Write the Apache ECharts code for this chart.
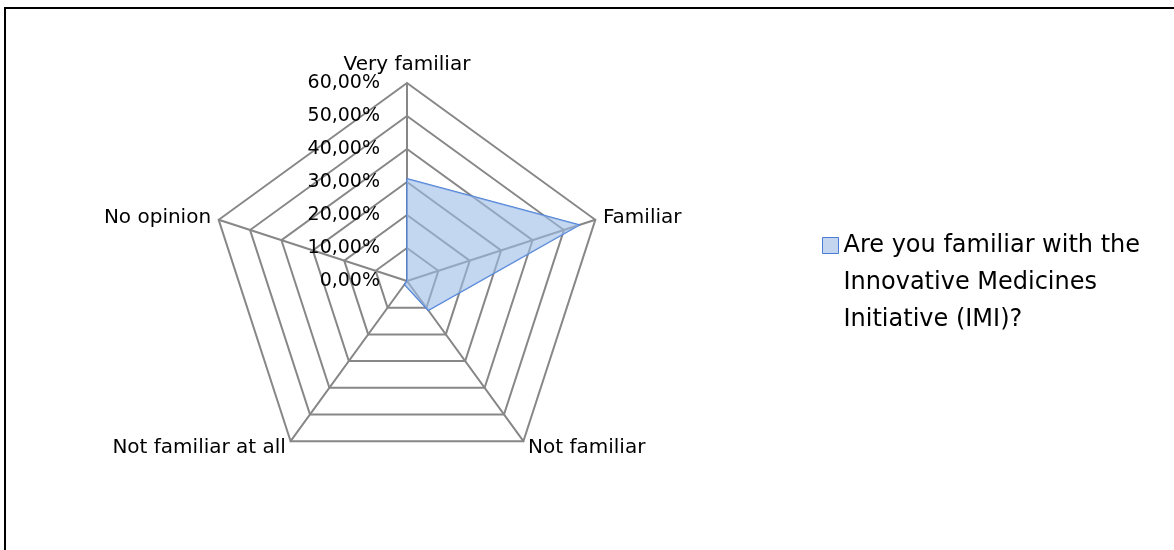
<!DOCTYPE html>
<html>
<head>
<meta charset="utf-8">
<script src="https://cdn.jsdelivr.net/npm/echarts@6/dist/echarts.min.js"></script>
<style>
    html, body { margin: 0; padding: 0; background: #fff; overflow: hidden; }
    #frame { position: absolute; left: 4px; top: 7px; width: 1300px; height: 700px; border: 2px solid #000; box-sizing: border-box; }
    #chart { position: absolute; left: 0; top: 0; width: 1174px; height: 550px; }
</style>
</head>
<body>
<div id="frame"></div>
<div id="chart"></div>
<script>
// categories (clockwise from top) and values (percent)
var categories = ['Very familiar', 'Familiar', 'Not familiar', 'Not familiar at all', 'No opinion'];
var seriesName = 'Are you familiar with the Innovative Medicines Initiative (IMI)?';
var values = [31, 55, 11, 1.3, 0];
var tickValues = [0, 10, 20, 30, 40, 50, 60];

var font = 'DejaVu Sans';
var center = [407, 281];
var radius = 198;

// echarts lays radar axes counter-clockwise, excel clockwise
function clockwise(arr) {
    return [arr[0]].concat(arr.slice(1).reverse());
}

var chart = echarts.init(document.getElementById('chart'));

chart.setOption({
    backgroundColor: 'rgba(0,0,0,0)',
    animation: false,
    radar: {
        center: center,
        radius: radius,
        startAngle: 90,
        shape: 'polygon',
        splitNumber: tickValues.length - 1,
        nameGap: 8,
        axisName: {
            color: '#000',
            fontFamily: font,
            fontSize: 20
        },
        axisLine: { lineStyle: { color: '#878787', width: 2 } },
        splitLine: { lineStyle: { color: '#878787', width: 2 } },
        splitArea: { show: false },
        indicator: clockwise(categories).map(function (c) {
            return { name: c, min: 0, max: tickValues[tickValues.length - 1] };
        })
    },
    // value labels on the first axis
    polar: { center: center, radius: radius },
    angleAxis: { type: 'value', startAngle: 90, min: 0, max: 360, show: false },
    radiusAxis: {
        type: 'value',
        z: 10,
        min: tickValues[0],
        max: tickValues[tickValues.length - 1],
        interval: 10,
        axisLine: { show: false },
        axisTick: { show: false },
        splitLine: { show: false },
        axisLabel: {
            margin: 27,
            color: '#000',
            fontFamily: font,
            fontSize: 19,
            formatter: function (v) { return v.toFixed(2).replace('.', ',') + '%'; }
        }
    },
    legend: {
        left: 822,
        top: 227,
        padding: 0,
        orient: 'vertical',
        itemWidth: 16,
        itemHeight: 90,
        // square at the top of a tall box so it sits beside the first text line
        icon: 'path://M0,0H16V16H0Z M0,90',
        itemStyle: { color: '#c3d5ef', borderColor: '#4a7ed6', borderWidth: 1 },
        textStyle: {
            color: '#000',
            fontFamily: font,
            fontSize: 24,
            lineHeight: 37,
            width: 320,
            overflow: 'break'
        },
        data: [seriesName]
    },
    series: [{
        type: 'radar',
        name: seriesName,
        symbol: 'none',
        lineStyle: { color: '#4a7ed6', width: 1.5 },
        areaStyle: { color: '#9dbce8', opacity: 0.6 },
        data: [{ name: seriesName, value: clockwise(values) }]
    }]
});
</script>
</body>
</html>
